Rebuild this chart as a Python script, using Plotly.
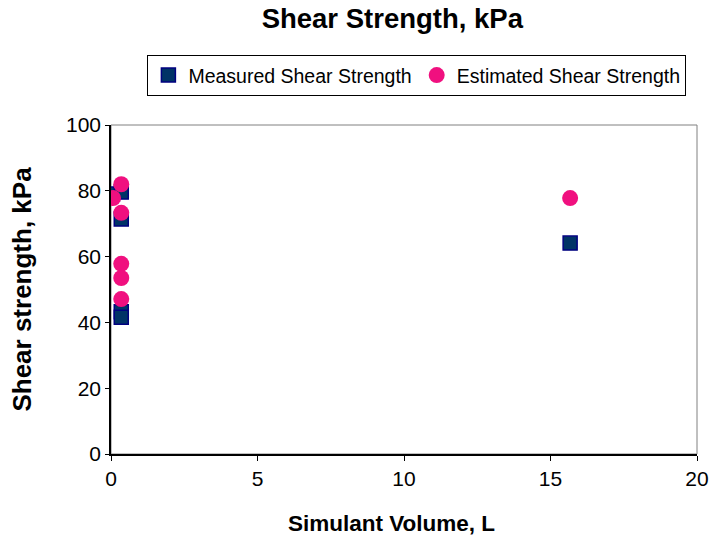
import plotly.graph_objects as go

meas_x = [0.05, 0.35, 0.35, 0.35, 0.35, 15.67]
meas_y = [79.0, 79.6, 71.4, 43.2, 41.6, 64.1]
est_x = [0.35, 0.07, 0.35, 0.35, 0.35, 0.35, 15.67]
est_y = [82.0, 77.8, 73.3, 57.8, 53.5, 47.1, 77.8]

font = "Liberation Sans, Arial, sans-serif"
fig = go.Figure()
fig.add_trace(go.Scatter(x=meas_x, y=meas_y, mode="markers", name="Measured Shear Strength",
                         marker=dict(symbol="square", size=14, color="#003366",
                                     line=dict(color="#000080", width=1.5))))
fig.add_trace(go.Scatter(x=est_x, y=est_y, mode="markers", name="Estimated Shear Strength",
                         marker=dict(symbol="circle", size=16, color="#F0107F",
                                     line=dict(width=0))))
fig.update_layout(
    width=712, height=544,
    margin=dict(l=111, r=15, t=125, b=90),
    paper_bgcolor="white", plot_bgcolor="white",
    font=dict(family=font, size=21, color="black"),
    title=dict(text="<b>Shear Strength, kPa</b>", x=0.551, xanchor="center", y=0.967, yanchor="middle",
               font=dict(size=27.5)),
    legend=dict(orientation="h", x=0.522, xanchor="center", y=1.213, yanchor="top",
                bordercolor="black", borderwidth=1, font=dict(size=19.5), itemwidth=30,
                tracegroupgap=0),
    xaxis=dict(range=[0, 20], tickvals=[0, 5, 10, 15, 20], showgrid=False, zeroline=False,
               showline=True, linecolor="black", linewidth=1.5, ticks="outside", ticklen=5,
               tickcolor="black", mirror=False, automargin=False),
    yaxis=dict(range=[0, 100], tickvals=[0, 20, 40, 60, 80, 100], showgrid=False, zeroline=False,
               showline=True, linecolor="black", linewidth=1.5, ticks="outside", ticklen=4,
               tickcolor="black", automargin=False,
               title=dict(text="<b>Shear strength, kPa</b>", font=dict(size=26), standoff=27)),
    annotations=[dict(text="<b>Simulant Volume, L</b>", xref="paper", yref="paper",
                      x=0.478, y=-0.212, xanchor="center", yanchor="middle", showarrow=False,
                      font=dict(size=22.5))],
    shapes=[dict(type="rect", xref="paper", yref="paper", x0=0, x1=1, y0=0, y1=1,
                 line=dict(color="#808080", width=1), layer="below")],
)
fig.write_html("out.html")
